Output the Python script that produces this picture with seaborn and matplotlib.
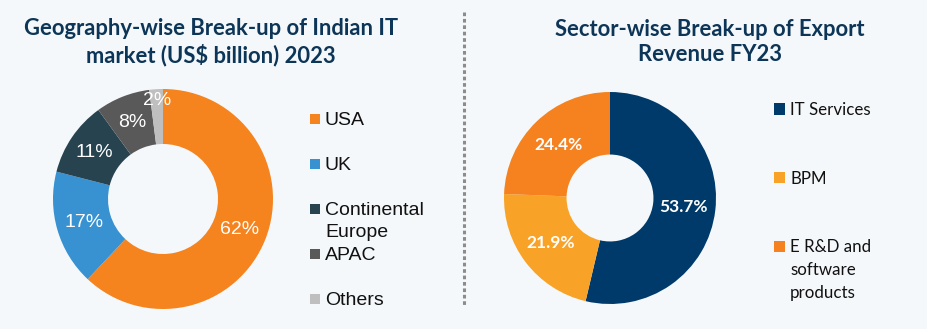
import matplotlib
matplotlib.use("Agg")
import matplotlib.pyplot as plt
from matplotlib.patches import Rectangle
from matplotlib.lines import Line2D
import seaborn as sns

# ---------------- data ----------------
geo_title = "Geography-wise Break-up of Indian IT\nmarket (US$ billion) 2023"
geo_labels = ["USA", "UK", "Continental\nEurope", "APAC", "Others"]
geo_values = [62, 17, 11, 8, 2]
geo_colors = ["#F5841F", "#3891D0", "#26434F", "#595959", "#BFBFBF"]

sector_title = "Sector-wise Break-up of Export\nRevenue FY23"
sector_labels = ["IT Services", "BPM", "E R&D and\nsoftware\nproducts"]
sector_values = [53.7, 21.9, 24.4]
sector_colors = ["#003A6A", "#F9A228", "#F5821F"]

# ---------------- style ----------------
W, H = 927, 329
BG = "#F4F8FA"
TITLE_C = "#0D3557"
sns.set_theme(style="white")
plt.rcParams['font.family'] = ['Liberation Sans', 'DejaVu Sans']

fig = plt.figure(figsize=(W / 100, H / 100), dpi=100, facecolor=BG)


def px_axes(x, y, w, h):
    ax = fig.add_axes([x / W, 1 - (y + h) / H, w / W, h / H])
    ax.set_facecolor("none")
    return ax


def fx(x):
    return x / W


def fy(y):
    return 1 - y / H


# ---------------- left donut ----------------
ax1 = px_axes(53, 89, 220, 220)
w1, t1, a1 = ax1.pie(
    geo_values, colors=geo_colors, startangle=90, counterclock=False,
    autopct=lambda p: f"{p:.0f}%", pctdistance=0.75,
    wedgeprops=dict(width=0.5, edgecolor='none'),
    textprops=dict(color='white', fontsize=14, family=['Liberation Sans']))
x, y = a1[-1].get_position()
a1[-1].set_position((x * 1.2, y * 1.2))
ax1.set_xlim(-1, 1)
ax1.set_ylim(-1, 1)
ax1.axis('off')

# ---------------- right donut ----------------
ax2 = px_axes(504, 92, 212, 212)
w2, t2, a2 = ax2.pie(
    sector_values, colors=sector_colors, startangle=90, counterclock=False,
    autopct=lambda p: f"{p:.1f}%", pctdistance=0.7,
    wedgeprops=dict(width=0.59, edgecolor='none'),
    textprops=dict(color='white', fontsize=12.5, fontweight='bold',
                   family=['Lato']))
ax2.set_xlim(-1, 1)
ax2.set_ylim(-1, 1)
ax2.axis('off')

# ---------------- titles ----------------
fig.text(fx(211), fy(42), geo_title, ha='center', va='center',
         fontsize=15.8, fontweight='bold', color=TITLE_C, family=['Lato'],
         linespacing=1.25)
fig.text(fx(710), fy(42), sector_title, ha='center', va='center',
         fontsize=15.8, fontweight='bold', color=TITLE_C, family=['Lato'],
         linespacing=1.25)

# ---------------- separator ----------------
fig.add_artist(Line2D([fx(464), fx(464)], [fy(12), fy(305)],
                      transform=fig.transFigure, color="#8C8C8C",
                      linewidth=2.2, linestyle=(0, (1.2, 0.9))))


# ---------------- legends ----------------
def draw_legend(x_sq, x_txt, y0, step, labels, colors, sq, fam, size, cap,
                line_px):
    for i, (lab, c) in enumerate(zip(labels, colors)):
        yc = y0 + i * step
        fig.add_artist(Rectangle((fx(x_sq), fy(yc + sq / 2)), sq / W, sq / H,
                                 transform=fig.transFigure, color=c,
                                 linewidth=0))
        for k, line in enumerate(lab.split("\n")):
            fig.text(fx(x_txt), fy(yc + cap / 2 + k * line_px), line,
                     ha='left', va='baseline', fontsize=size, family=fam,
                     color="#111111")


draw_legend(310, 325, 118.5, 45, geo_labels, geo_colors, 10,
            ['Liberation Sans'], 14, 13.5, 22)
draw_legend(774, 790, 109, 68.7, sector_labels, sector_colors, 11,
            ['Lato'], 12.2, 12, 23)

fig.savefig("out.png", dpi=100, facecolor=BG)
